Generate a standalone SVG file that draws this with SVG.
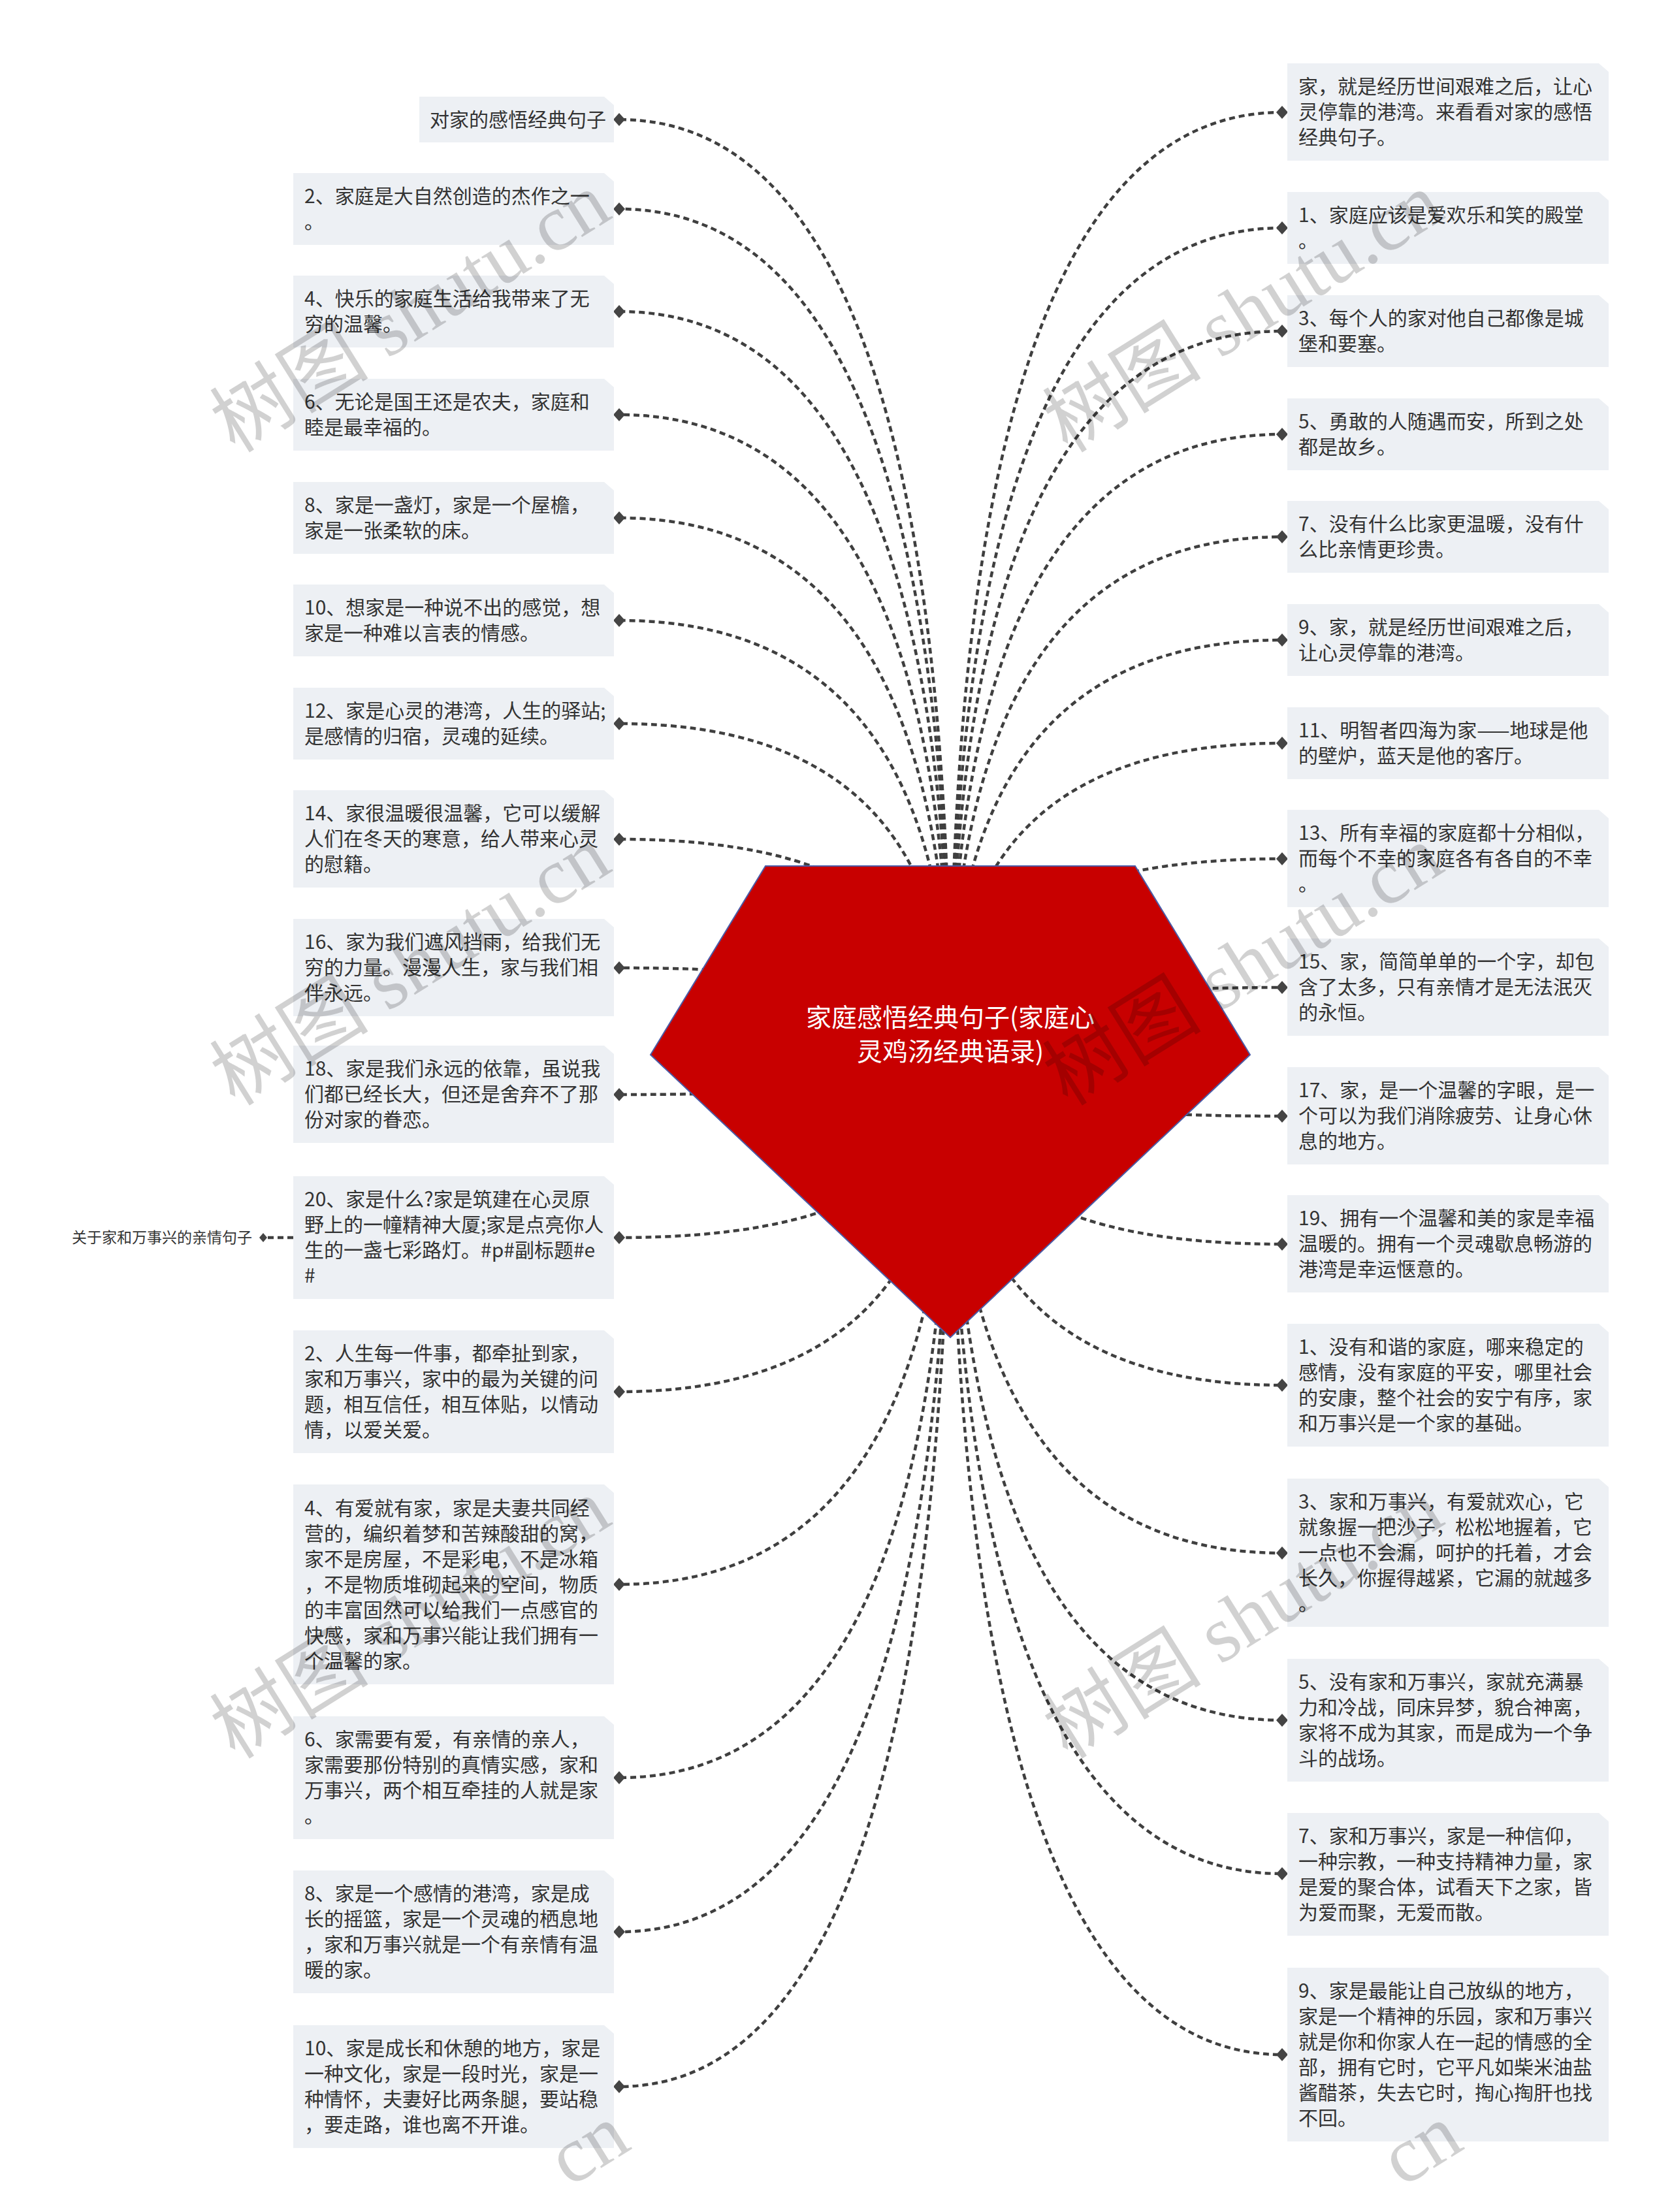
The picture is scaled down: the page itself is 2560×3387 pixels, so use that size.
<svg xmlns="http://www.w3.org/2000/svg" width="2560" height="3387" viewBox="0 0 2560 3387">
<style>
.bg{fill:#FFFFFF}
.box{fill:#EDF0F4}
.t{font-family:"Noto Sans CJK SC","Liberation Sans",sans-serif;font-size:30px;fill:#333333}
.small{font-family:"Noto Sans CJK SC","Liberation Sans",sans-serif;font-size:23px;fill:#333333}
.rt{font-family:"Noto Sans CJK SC","Liberation Sans",sans-serif;font-size:39px;fill:#FFFFFF}
.c{fill:none;stroke:#3F3F3F;stroke-width:4.5;stroke-dasharray:9 6}
.wm{font-family:"Liberation Serif","Noto Sans CJK SC",serif;font-size:122px;fill:#000000;fill-opacity:0.18}
</style>
<defs>
<marker id="dm" markerUnits="userSpaceOnUse" viewBox="-10 -11 20 22" markerWidth="20" markerHeight="22" refX="0" refY="0" orient="auto">
<path d="M0,-10 L9,0 L0,10 L-9,0 Z" fill="#444444"/>
</marker>
<marker id="dms" markerUnits="userSpaceOnUse" viewBox="-7 -8 14 16" markerWidth="14" markerHeight="16" refX="0" refY="0" orient="auto">
<path d="M0,-7 L6,0 L0,7 L-6,0 Z" fill="#444444"/>
</marker>
</defs>
<rect class="bg" x="0" y="0" width="2560" height="3387"/>

<g id="connectors">
<path class="c" marker-end="url(#dm)" d="M1455,1615 Q1455,183 948,183"/>
<path class="c" marker-end="url(#dm)" d="M1455,1615 Q1455,320 948,320"/>
<path class="c" marker-end="url(#dm)" d="M1455,1615 Q1455,477 948,477"/>
<path class="c" marker-end="url(#dm)" d="M1455,1615 Q1455,635 948,635"/>
<path class="c" marker-end="url(#dm)" d="M1455,1615 Q1455,793 948,793"/>
<path class="c" marker-end="url(#dm)" d="M1455,1615 Q1455,950 948,950"/>
<path class="c" marker-end="url(#dm)" d="M1455,1615 Q1455,1108 948,1108"/>
<path class="c" marker-end="url(#dm)" d="M1455,1615 Q1455,1285 948,1285"/>
<path class="c" marker-end="url(#dm)" d="M1455,1615 Q1455,1482 948,1482"/>
<path class="c" marker-end="url(#dm)" d="M1455,1615 Q1455,1676 948,1676"/>
<path class="c" marker-end="url(#dm)" d="M1455,1615 Q1455,1895 948,1895"/>
<path class="c" marker-end="url(#dm)" d="M1455,1615 Q1455,2131 948,2131"/>
<path class="c" marker-end="url(#dm)" d="M1455,1615 Q1455,2426 948,2426"/>
<path class="c" marker-end="url(#dm)" d="M1455,1615 Q1455,2722 948,2722"/>
<path class="c" marker-end="url(#dm)" d="M1455,1615 Q1455,2958 948,2958"/>
<path class="c" marker-end="url(#dm)" d="M1455,1615 Q1455,3195 948,3195"/>
<path class="c" marker-end="url(#dm)" d="M1455,1615 Q1455,172 1963,172"/>
<path class="c" marker-end="url(#dm)" d="M1455,1615 Q1455,349 1963,349"/>
<path class="c" marker-end="url(#dm)" d="M1455,1615 Q1455,507 1963,507"/>
<path class="c" marker-end="url(#dm)" d="M1455,1615 Q1455,665 1963,665"/>
<path class="c" marker-end="url(#dm)" d="M1455,1615 Q1455,822 1963,822"/>
<path class="c" marker-end="url(#dm)" d="M1455,1615 Q1455,980 1963,980"/>
<path class="c" marker-end="url(#dm)" d="M1455,1615 Q1455,1138 1963,1138"/>
<path class="c" marker-end="url(#dm)" d="M1455,1615 Q1455,1315 1963,1315"/>
<path class="c" marker-end="url(#dm)" d="M1455,1615 Q1455,1512 1963,1512"/>
<path class="c" marker-end="url(#dm)" d="M1455,1615 Q1455,1709 1963,1709"/>
<path class="c" marker-end="url(#dm)" d="M1455,1615 Q1455,1905 1963,1905"/>
<path class="c" marker-end="url(#dm)" d="M1455,1615 Q1455,2121 1963,2121"/>
<path class="c" marker-end="url(#dm)" d="M1455,1615 Q1455,2378 1963,2378"/>
<path class="c" marker-end="url(#dm)" d="M1455,1615 Q1455,2634 1963,2634"/>
<path class="c" marker-end="url(#dm)" d="M1455,1615 Q1455,2869 1963,2869"/>
<path class="c" marker-end="url(#dm)" d="M1455,1615 Q1455,3146 1963,3146"/>
<path class="c" marker-end="url(#dms)" d="M449,1895 L403,1895"/>
</g>

<g id="root">
<polygon points="1172,1326 1738,1326 1914,1615 1455,2048 996,1615" fill="#C80000" stroke="#4B5BA6" stroke-width="2"/>
<text class="rt" text-anchor="middle"><tspan x="1455" y="1572">家庭感悟经典句子(家庭心</tspan><tspan x="1455" y="1624">灵鸡汤经典语录)</tspan></text>
</g>

<g id="n-l0"><path class="box" d="M642,148 H925 L940,161 V218 H642 Z"/><text class="t"><tspan x="658" y="194">对家的感悟经典句子</tspan></text></g>
<g id="n-l1"><path class="box" d="M449,265 H925 L940,278 V375 H449 Z"/><text class="t"><tspan x="466" y="311">2、家庭是大自然创造的杰作之一</tspan><tspan x="466" y="350">。</tspan></text></g>
<g id="n-l2"><path class="box" d="M449,422 H925 L940,435 V532 H449 Z"/><text class="t"><tspan x="466" y="468">4、快乐的家庭生活给我带来了无</tspan><tspan x="466" y="507">穷的温馨。</tspan></text></g>
<g id="n-l3"><path class="box" d="M449,580 H925 L940,593 V690 H449 Z"/><text class="t"><tspan x="466" y="626">6、无论是国王还是农夫，家庭和</tspan><tspan x="466" y="665">睦是最幸福的。</tspan></text></g>
<g id="n-l4"><path class="box" d="M449,738 H925 L940,751 V848 H449 Z"/><text class="t"><tspan x="466" y="784">8、家是一盏灯，家是一个屋檐，</tspan><tspan x="466" y="823">家是一张柔软的床。</tspan></text></g>
<g id="n-l5"><path class="box" d="M449,895 H925 L940,908 V1005 H449 Z"/><text class="t"><tspan x="466" y="941">10、想家是一种说不出的感觉，想</tspan><tspan x="466" y="980">家是一种难以言表的情感。</tspan></text></g>
<g id="n-l6"><path class="box" d="M449,1053 H925 L940,1066 V1163 H449 Z"/><text class="t"><tspan x="466" y="1099">12、家是心灵的港湾，人生的驿站;</tspan><tspan x="466" y="1138">是感情的归宿，灵魂的延续。</tspan></text></g>
<g id="n-l7"><path class="box" d="M449,1210 H925 L940,1223 V1359 H449 Z"/><text class="t"><tspan x="466" y="1256">14、家很温暖很温馨，它可以缓解</tspan><tspan x="466" y="1295">人们在冬天的寒意，给人带来心灵</tspan><tspan x="466" y="1334">的慰籍。</tspan></text></g>
<g id="n-l8"><path class="box" d="M449,1407 H925 L940,1420 V1556 H449 Z"/><text class="t"><tspan x="466" y="1453">16、家为我们遮风挡雨，给我们无</tspan><tspan x="466" y="1492">穷的力量。漫漫人生，家与我们相</tspan><tspan x="466" y="1531">伴永远。</tspan></text></g>
<g id="n-l9"><path class="box" d="M449,1601 H925 L940,1614 V1750 H449 Z"/><text class="t"><tspan x="466" y="1647">18、家是我们永远的依靠，虽说我</tspan><tspan x="466" y="1686">们都已经长大，但还是舍弃不了那</tspan><tspan x="466" y="1725">份对家的眷恋。</tspan></text></g>
<g id="n-l10"><path class="box" d="M449,1801 H925 L940,1814 V1989 H449 Z"/><text class="t"><tspan x="466" y="1847">20、家是什么?家是筑建在心灵原</tspan><tspan x="466" y="1886">野上的一幢精神大厦;家是点亮你人</tspan><tspan x="466" y="1925">生的一盏七彩路灯。#p#副标题#e</tspan><tspan x="466" y="1964">#</tspan></text></g>
<g id="n-l11"><path class="box" d="M449,2037 H925 L940,2050 V2225 H449 Z"/><text class="t"><tspan x="466" y="2083">2、人生每一件事，都牵扯到家，</tspan><tspan x="466" y="2122">家和万事兴，家中的最为关键的问</tspan><tspan x="466" y="2161">题，相互信任，相互体贴，以情动</tspan><tspan x="466" y="2200">情，以爱关爱。</tspan></text></g>
<g id="n-l12"><path class="box" d="M449,2273 H925 L940,2286 V2579 H449 Z"/><text class="t"><tspan x="466" y="2320">4、有爱就有家，家是夫妻共同经</tspan><tspan x="466" y="2359">营的，编织着梦和苦辣酸甜的窝，</tspan><tspan x="466" y="2398">家不是房屋，不是彩电，不是冰箱</tspan><tspan x="466" y="2437">，不是物质堆砌起来的空间，物质</tspan><tspan x="466" y="2476">的丰富固然可以给我们一点感官的</tspan><tspan x="466" y="2515">快感，家和万事兴能让我们拥有一</tspan><tspan x="466" y="2554">个温馨的家。</tspan></text></g>
<g id="n-l13"><path class="box" d="M449,2628 H925 L940,2641 V2816 H449 Z"/><text class="t"><tspan x="466" y="2674">6、家需要有爱，有亲情的亲人，</tspan><tspan x="466" y="2713">家需要那份特别的真情实感，家和</tspan><tspan x="466" y="2752">万事兴，两个相互牵挂的人就是家</tspan><tspan x="466" y="2791">。</tspan></text></g>
<g id="n-l14"><path class="box" d="M449,2864 H925 L940,2877 V3052 H449 Z"/><text class="t"><tspan x="466" y="2910">8、家是一个感情的港湾，家是成</tspan><tspan x="466" y="2949">长的摇篮，家是一个灵魂的栖息地</tspan><tspan x="466" y="2988">，家和万事兴就是一个有亲情有温</tspan><tspan x="466" y="3027">暖的家。</tspan></text></g>
<g id="n-l15"><path class="box" d="M449,3101 H925 L940,3114 V3289 H449 Z"/><text class="t"><tspan x="466" y="3147">10、家是成长和休憩的地方，家是</tspan><tspan x="466" y="3186">一种文化，家是一段时光，家是一</tspan><tspan x="466" y="3225">种情怀，夫妻好比两条腿，要站稳</tspan><tspan x="466" y="3264">，要走路，谁也离不开谁。</tspan></text></g>
<g id="n-sub"><text class="small" text-anchor="end" x="386" y="1903">关于家和万事兴的亲情句子</text></g>

<g id="n-r0"><path class="box" d="M1971,97 H2448 L2463,110 V246 H1971 Z"/><text class="t"><tspan x="1988" y="143">家，就是经历世间艰难之后，让心</tspan><tspan x="1988" y="182">灵停靠的港湾。来看看对家的感悟</tspan><tspan x="1988" y="221">经典句子。</tspan></text></g>
<g id="n-r1"><path class="box" d="M1971,294 H2448 L2463,307 V404 H1971 Z"/><text class="t"><tspan x="1988" y="340">1、家庭应该是爱欢乐和笑的殿堂</tspan><tspan x="1988" y="379">。</tspan></text></g>
<g id="n-r2"><path class="box" d="M1971,452 H2448 L2463,465 V562 H1971 Z"/><text class="t"><tspan x="1988" y="498">3、每个人的家对他自己都像是城</tspan><tspan x="1988" y="537">堡和要塞。</tspan></text></g>
<g id="n-r3"><path class="box" d="M1971,610 H2448 L2463,623 V720 H1971 Z"/><text class="t"><tspan x="1988" y="656">5、勇敢的人随遇而安，所到之处</tspan><tspan x="1988" y="695">都是故乡。</tspan></text></g>
<g id="n-r4"><path class="box" d="M1971,767 H2448 L2463,780 V877 H1971 Z"/><text class="t"><tspan x="1988" y="813">7、没有什么比家更温暖，没有什</tspan><tspan x="1988" y="852">么比亲情更珍贵。</tspan></text></g>
<g id="n-r5"><path class="box" d="M1971,925 H2448 L2463,938 V1035 H1971 Z"/><text class="t"><tspan x="1988" y="971">9、家，就是经历世间艰难之后，</tspan><tspan x="1988" y="1010">让心灵停靠的港湾。</tspan></text></g>
<g id="n-r6"><path class="box" d="M1971,1083 H2448 L2463,1096 V1193 H1971 Z"/><text class="t"><tspan x="1988" y="1129">11、明智者四海为家——地球是他</tspan><tspan x="1988" y="1168">的壁炉，蓝天是他的客厅。</tspan></text></g>
<g id="n-r7"><path class="box" d="M1971,1240 H2448 L2463,1253 V1389 H1971 Z"/><text class="t"><tspan x="1988" y="1286">13、所有幸福的家庭都十分相似，</tspan><tspan x="1988" y="1325">而每个不幸的家庭各有各自的不幸</tspan><tspan x="1988" y="1364">。</tspan></text></g>
<g id="n-r8"><path class="box" d="M1971,1437 H2448 L2463,1450 V1586 H1971 Z"/><text class="t"><tspan x="1988" y="1483">15、家，简简单单的一个字，却包</tspan><tspan x="1988" y="1522">含了太多，只有亲情才是无法泯灭</tspan><tspan x="1988" y="1561">的永恒。</tspan></text></g>
<g id="n-r9"><path class="box" d="M1971,1634 H2448 L2463,1647 V1783 H1971 Z"/><text class="t"><tspan x="1988" y="1680">17、家，是一个温馨的字眼，是一</tspan><tspan x="1988" y="1719">个可以为我们消除疲劳、让身心休</tspan><tspan x="1988" y="1758">息的地方。</tspan></text></g>
<g id="n-r10"><path class="box" d="M1971,1830 H2448 L2463,1843 V1979 H1971 Z"/><text class="t"><tspan x="1988" y="1876">19、拥有一个温馨和美的家是幸福</tspan><tspan x="1988" y="1915">温暖的。拥有一个灵魂歇息畅游的</tspan><tspan x="1988" y="1954">港湾是幸运惬意的。</tspan></text></g>
<g id="n-r11"><path class="box" d="M1971,2027 H2448 L2463,2040 V2215 H1971 Z"/><text class="t"><tspan x="1988" y="2073">1、没有和谐的家庭，哪来稳定的</tspan><tspan x="1988" y="2112">感情，没有家庭的平安，哪里社会</tspan><tspan x="1988" y="2151">的安康，整个社会的安宁有序，家</tspan><tspan x="1988" y="2190">和万事兴是一个家的基础。</tspan></text></g>
<g id="n-r12"><path class="box" d="M1971,2264 H2448 L2463,2277 V2491 H1971 Z"/><text class="t"><tspan x="1988" y="2310">3、家和万事兴，有爱就欢心，它</tspan><tspan x="1988" y="2349">就象握一把沙子，松松地握着，它</tspan><tspan x="1988" y="2388">一点也不会漏，呵护的托着，才会</tspan><tspan x="1988" y="2427">长久，你握得越紧，它漏的就越多</tspan><tspan x="1988" y="2466">。</tspan></text></g>
<g id="n-r13"><path class="box" d="M1971,2540 H2448 L2463,2553 V2728 H1971 Z"/><text class="t"><tspan x="1988" y="2586">5、没有家和万事兴，家就充满暴</tspan><tspan x="1988" y="2625">力和冷战，同床异梦，貌合神离，</tspan><tspan x="1988" y="2664">家将不成为其家，而是成为一个争</tspan><tspan x="1988" y="2703">斗的战场。</tspan></text></g>
<g id="n-r14"><path class="box" d="M1971,2776 H2448 L2463,2789 V2964 H1971 Z"/><text class="t"><tspan x="1988" y="2822">7、家和万事兴，家是一种信仰，</tspan><tspan x="1988" y="2861">一种宗教，一种支持精神力量，家</tspan><tspan x="1988" y="2900">是爱的聚合体，试看天下之家，皆</tspan><tspan x="1988" y="2939">为爱而聚，无爱而散。</tspan></text></g>
<g id="n-r15"><path class="box" d="M1971,3013 H2448 L2463,3026 V3279 H1971 Z"/><text class="t"><tspan x="1988" y="3059">9、家是最能让自己放纵的地方，</tspan><tspan x="1988" y="3098">家是一个精神的乐园，家和万事兴</tspan><tspan x="1988" y="3137">就是你和你家人在一起的情感的全</tspan><tspan x="1988" y="3176">部，拥有它时，它平凡如柴米油盐</tspan><tspan x="1988" y="3215">酱醋茶，失去它时，掏心掏肝也找</tspan><tspan x="1988" y="3254">不回。</tspan></text></g>

<g id="watermarks">
<text class="wm" transform="translate(360,695) rotate(-32)">树图 shutu.cn</text>
<text class="wm" transform="translate(360,1695) rotate(-32)">树图 shutu.cn</text>
<text class="wm" transform="translate(360,2695) rotate(-32)">树图 shutu.cn</text>
<text class="wm" transform="translate(872,3350) rotate(-32)">cn</text>
<text class="wm" transform="translate(1635,695) rotate(-32)">树图 shutu.cn</text>
<text class="wm" transform="translate(1635,1695) rotate(-32)">树图 shutu.cn</text>
<text class="wm" transform="translate(1635,2695) rotate(-32)">树图 shutu.cn</text>
<text class="wm" transform="translate(2147,3350) rotate(-32)">cn</text>
</g>
</svg>
